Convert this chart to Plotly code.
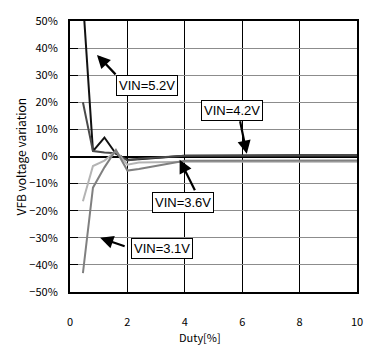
import plotly.graph_objects as go

duty = [0.45, 0.8, 1.2, 1.6, 2.0, 2.4, 4, 6, 8, 10]
vin_52 = [58, 2, 7, 1, -1.2, -1.0, 0.3, 0.5, 0.5, 0.5]
vin_42 = [20, 2, 1.5, 1.2, -1.5, -0.8, 0.3, 0.4, 0.4, 0.4]
vin_36 = [-16.5, -3.5, -1.5, 2, -3, -2.2, -1.9, -1.9, -1.9, -1.9]
vin_31 = [-43, -11.5, -4, 2.4, -5.2, -4.6, -1.6, -1.5, -1.5, -1.5]

series = [
    ("VIN=5.2V", vin_52, "#111111"),
    ("VIN=4.2V", vin_42, "#4a4a4a"),
    ("VIN=3.6V", vin_36, "#b4b4b4"),
    ("VIN=3.1V", vin_31, "#808080"),
]

y_ticks = list(range(-50, 51, 10))
y_labels = [("\u2212" if v < 0 else "") + f"{abs(v)}%" for v in y_ticks]
x_ticks = [0, 2, 4, 6, 8, 10]

fig = go.Figure()
for name, vals, col in series:
    fig.add_trace(go.Scatter(x=duty, y=vals, mode="lines", name=name,
                             line=dict(color=col, width=2), showlegend=False,
                             hoverinfo="skip"))

tick_font = dict(family="Noto Sans CJK JP, sans-serif", size=11, color="black")
fig.update_layout(
    width=382, height=349,
    margin=dict(l=70, r=25, t=12, b=57),
    paper_bgcolor="white", plot_bgcolor="white",
    xaxis=dict(range=[0, 10], tickvals=x_ticks, showgrid=True, gridcolor="black", gridwidth=1,
               zeroline=False, showline=True, mirror=True, linecolor="black", linewidth=2,
               ticks="inside", ticklen=5, tickcolor="black", tickfont=tick_font,
               ticklabelstandoff=19),
    yaxis=dict(range=[-50, 50], tickvals=y_ticks, ticktext=y_labels, showgrid=True,
               gridcolor="#8c8c8c", gridwidth=1, zeroline=True, zerolinecolor="black",
               zerolinewidth=2, showline=True, mirror=True, linecolor="black", linewidth=2,
               ticks="inside", ticklen=8, tickcolor="black", tickfont=tick_font,
               ticklabelstandoff=8),
)

# axis titles
fig.add_annotation(text="VFB voltage variation", xref="paper", yref="paper",
                   x=-50 / 287, y=0.5, textangle=-90, showarrow=False,
                   xanchor="center", yanchor="middle",
                   font=dict(family="Noto Sans CJK JP, sans-serif", size=12, color="black"))
fig.add_annotation(text="Duty[%]", xref="paper", yref="paper",
                   x=(200 - 70) / 287, y=-47 / 280, showarrow=False,
                   xanchor="center", yanchor="middle",
                   font=dict(family="Noto Sans CJK JP, sans-serif", size=11, color="black"))

# labels: (text, box center x, box center y, arrow tip x, tip y, ax, ay)
labels = [
    ("VIN=5.2V", 2.70, 26.2, 0.94, 37.5, 20, 21),
    ("VIN=4.2V", 5.63, 17.1, 6.16, 1.0, -7, -34),
    ("VIN=3.6V", 3.94, -16.8, 3.82, -1.2, 16, 32),
    ("VIN=3.1V", 3.19, -33.9, 1.05, -30.0, 26, 9),
]
for text, bx, by, tx, ty, ax, ay in labels:
    fig.add_annotation(x=tx, y=ty, ax=ax, ay=ay, text="", showarrow=True,
                       arrowhead=2, arrowsize=1.2, arrowwidth=2.2, arrowcolor="black")
    fig.add_annotation(x=bx, y=by, text=text, showarrow=False,
                       bgcolor="white", bordercolor="black", borderwidth=1, borderpad=2,
                       font=dict(family="Liberation Sans, Arial, sans-serif", size=13, color="black"))

fig.write_html("out.html", config={"displayModeBar": False},
               post_script="document.body.style.margin='0';")
